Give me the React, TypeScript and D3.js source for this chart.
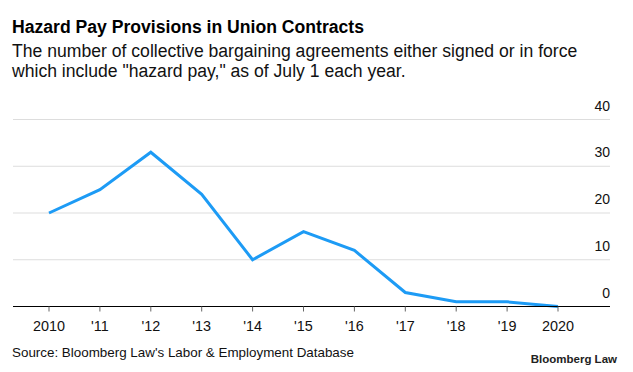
import { useEffect, useRef } from 'react';
import * as d3 from 'd3';

// Chart data
const years = ["2010", "'11", "'12", "'13", "'14", "'15", "'16", "'17", "'18", "'19", "2020"];
const agreements = [20, 25, 33, 24, 10, 16, 12, 3, 1, 1, 0];
const yTicks = [0, 10, 20, 30, 40];

const title = "Hazard Pay Provisions in Union Contracts";
const subtitle = [
    "The number of collective bargaining agreements either signed or in force",
    "which include \"hazard pay,\" as of July 1 each year.",
];
const source = "Source: Bloomberg Law's Labor & Employment Database";
const brand = "Bloomberg Law";

const width = 633;
const height = 372;
const font = "'Liberation Sans', Arial, sans-serif";

export default function App() {
    const svgRef = useRef<SVGSVGElement>(null);

    useEffect(() => {
        document.body.style.margin = '0';
        if (!svgRef.current) return;
        const svg = d3.select(svgRef.current);
        svg.selectAll('*').remove();

        const plotLeft = 13;
        const plotRight = 610;

        const x = d3.scalePoint<string>()
            .domain(years)
            .range([49, 558]);

        const y = d3.scaleLinear()
            .domain([0, 40])
            .range([306.5, 119.5]);

        // Titles
        svg.append('text')
            .attr('x', 12)
            .attr('y', 33)
            .attr('font-family', font)
            .attr('font-weight', 'bold')
            .attr('font-size', 17.6)
            .attr('fill', '#000')
            .text(title);

        svg.append('g')
            .selectAll('text')
            .data(subtitle)
            .join('text')
            .attr('x', 12)
            .attr('y', (_, i) => 57 + i * 20)
            .attr('font-family', font)
            .attr('font-size', 17.6)
            .attr('fill', '#111')
            .text(d => d);

        // Gridlines
        svg.append('g')
            .selectAll('line')
            .data(yTicks.filter(t => t !== 0))
            .join('line')
            .attr('x1', plotLeft)
            .attr('x2', plotRight)
            .attr('y1', d => y(d))
            .attr('y2', d => y(d))
            .attr('stroke', '#dddddd')
            .attr('stroke-width', 1);

        // Y labels (right side, above gridlines)
        svg.append('g')
            .selectAll('text')
            .data(yTicks)
            .join('text')
            .attr('x', plotRight)
            .attr('y', d => y(d) - 9)
            .attr('text-anchor', 'end')
            .attr('font-family', font)
            .attr('font-size', 14)
            .attr('fill', '#111')
            .text(d => d);

        // Line
        const line = d3.line<number>()
            .x((_, i) => x(years[i]) as number)
            .y(d => y(d));

        svg.append('path')
            .datum(agreements)
            .attr('d', line)
            .attr('fill', 'none')
            .attr('stroke', '#1d9bf5')
            .attr('stroke-width', 3);

        // X axis
        svg.append('line')
            .attr('x1', plotLeft)
            .attr('x2', plotRight)
            .attr('y1', y(0))
            .attr('y2', y(0))
            .attr('stroke', '#000')
            .attr('stroke-width', 1);

        svg.append('g')
            .selectAll('line')
            .data(years)
            .join('line')
            .attr('x1', d => x(d) as number)
            .attr('x2', d => x(d) as number)
            .attr('y1', y(0))
            .attr('y2', y(0) + 5)
            .attr('stroke', '#666')
            .attr('stroke-width', 1);

        svg.append('g')
            .selectAll('text')
            .data(years)
            .join('text')
            .attr('x', d => x(d) as number)
            .attr('y', 331)
            .attr('text-anchor', 'middle')
            .attr('font-family', font)
            .attr('font-size', 14.4)
            .attr('fill', '#111')
            .text(d => d);

        // Footer
        svg.append('text')
            .attr('x', 12)
            .attr('y', 357)
            .attr('font-family', font)
            .attr('font-size', 13.4)
            .attr('fill', '#111')
            .text(source);

        svg.append('text')
            .attr('x', 617)
            .attr('y', 363)
            .attr('text-anchor', 'end')
            .attr('font-family', font)
            .attr('font-weight', 'bold')
            .attr('font-size', 11.5)
            .attr('fill', '#222')
            .text(brand);
    }, []);

    return (
        <svg ref={svgRef} width={width} height={height} style={{ display: 'block', background: '#fff' }} />
    );
}
